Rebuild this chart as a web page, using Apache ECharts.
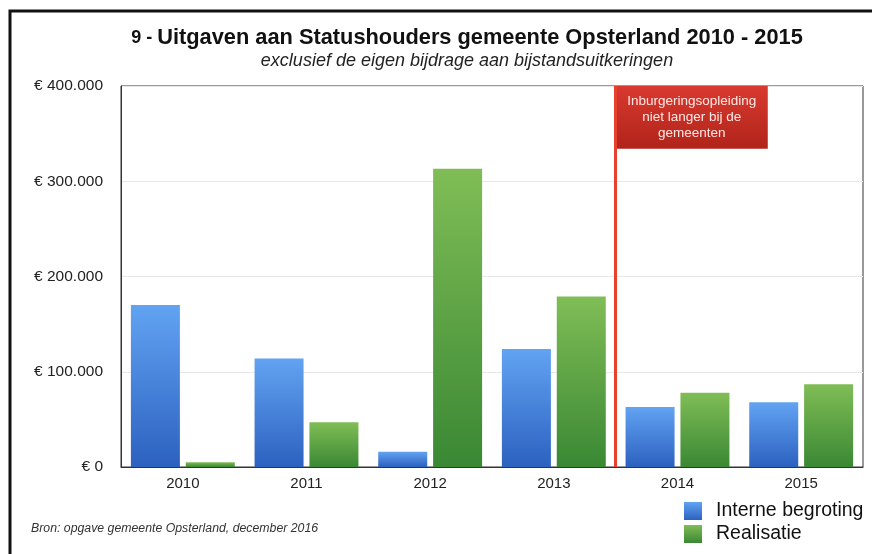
<!DOCTYPE html>
<html>
<head>
<meta charset="utf-8">
<script src="https://cdn.jsdelivr.net/npm/echarts@6/dist/echarts.min.js"></script>
<style>
  html, body { margin: 0; padding: 0; background: #fff; }
  #chart { width: 872px; height: 554px; }
</style>
</head>
<body>
<div id="chart"></div>
<script>
// data
const years = ['2010', '2011', '2012', '2013', '2014', '2015'];
const begroting = [170000, 114000, 16000, 124000, 63000, 68000];
const realisatie = [5000, 47000, 313000, 179000, 78000, 87000];
const yTicks = [0, 100000, 200000, 300000, 400000];
const noteText = 'Inburgeringsopleiding\nniet langer bij de\ngemeenten';
const breakAt = 4; // boundary between 2013 and 2014

const font = 'Liberation Sans, Helvetica, Arial, sans-serif';

let euro = v => v === 0 ? '€ 0' : '€ ' + String(v).replace(/\B(?=(\d{3})+(?!\d))/g, '.');

let grad = (top, bottom) => new echarts.graphic.LinearGradient(0, 0, 0, 1, [
  { offset: 0, color: top },
  { offset: 1, color: bottom }
]);

const chart = echarts.init(document.getElementById('chart'));

chart.setOption({
  animation: false,
  backgroundColor: '#fff',
  textStyle: { fontFamily: font },
  title: {
    text: '{n|9 - }{t|Uitgaven aan Statushouders gemeente Opsterland 2010 - 2015}',
    subtext: 'exclusief de eigen bijdrage aan bijstandsuitkeringen',
    left: 462,
    textAlign: 'center',
    top: 22,
    itemGap: 3,
    textStyle: {
      rich: {
        n: { fontSize: 18, fontWeight: 'bold', color: '#111', fontFamily: font },
        t: { fontSize: 21.8, fontWeight: 'bold', color: '#111', fontFamily: font }
      }
    },
    subtextStyle: { fontSize: 18, fontStyle: 'italic', color: '#222', fontFamily: font }
  },
  legend: {
    left: 684,
    top: 501,
    padding: 0,
    orient: 'vertical',
    itemWidth: 18,
    itemHeight: 18,
    itemGap: 3,
    icon: 'rect',
    textStyle: { fontSize: 19.5, color: '#111', fontFamily: font, padding: [0, 0, 0, 9] },
    data: ['Interne begroting', 'Realisatie']
  },
  grid: {
    left: 121, right: 9, top: 86, bottom: 87,
    show: true, borderColor: '#333', borderWidth: 1
  },
  xAxis: [{
    type: 'category',
    data: years,
    axisTick: { show: false },
    axisLine: { lineStyle: { color: '#333', width: 1 } },
    axisLabel: { fontSize: 15, color: '#222', margin: 9 }
  }, {
    // hidden value axis used to place the red boundary line and its note
    type: 'value', min: 0, max: years.length, show: false
  }],
  yAxis: {
    type: 'value',
    min: yTicks[0],
    max: yTicks[yTicks.length - 1],
    interval: 100000,
    axisLine: { show: true, lineStyle: { color: '#333' } },
    axisTick: { show: false },
    splitLine: { lineStyle: { color: '#e8e8e8' } },
    axisLabel: { fontSize: 15.5, color: '#222', margin: 18, formatter: euro }
  },
  series: [{
    name: 'Interne begroting',
    type: 'bar',
    data: begroting,
    barWidth: 49,
    barGap: '12%',
    itemStyle: { color: grad('#62a3f2', '#2c61c0') }
  }, {
    name: 'Realisatie',
    type: 'bar',
    data: realisatie,
    barWidth: 49,
    itemStyle: { color: grad('#80bd56', '#3a8834') }
  }, {
    name: 'note',
    type: 'line',
    xAxisIndex: 1,
    data: [],
    silent: true,
    markLine: {
      symbol: 'none',
      silent: true,
      label: { show: false },
      lineStyle: { color: '#e8402f', width: 3, type: 'solid' },
      data: [{ xAxis: breakAt }]
    },
    markArea: {
      silent: true,
      itemStyle: { color: grad('#d9392f', '#b0241a'), opacity: 1 },
      label: {
        show: true,
        position: 'inside',
        color: '#fde8e4',
        fontSize: 13.5,
        lineHeight: 16,
        align: 'center',
        fontFamily: font
      },
      data: [[
        { name: noteText, xAxis: breakAt, yAxis: 400000 },
        { xAxis: breakAt + 1.23, yAxis: 334000 }
      ]]
    }
  }],
  graphic: [{
    type: 'rect',
    shape: { x: 10, y: 11, width: 900, height: 600 },
    style: { fill: 'none', stroke: '#111', lineWidth: 3 },
    silent: true
  }, {
    type: 'text',
    left: 31,
    top: 523,
    style: {
      text: 'Bron: opgave gemeente Opsterland, december 2016',
      font: 'italic 12.3px ' + font,
      fill: '#333'
    }
  }]
});
</script>
</body>
</html>
